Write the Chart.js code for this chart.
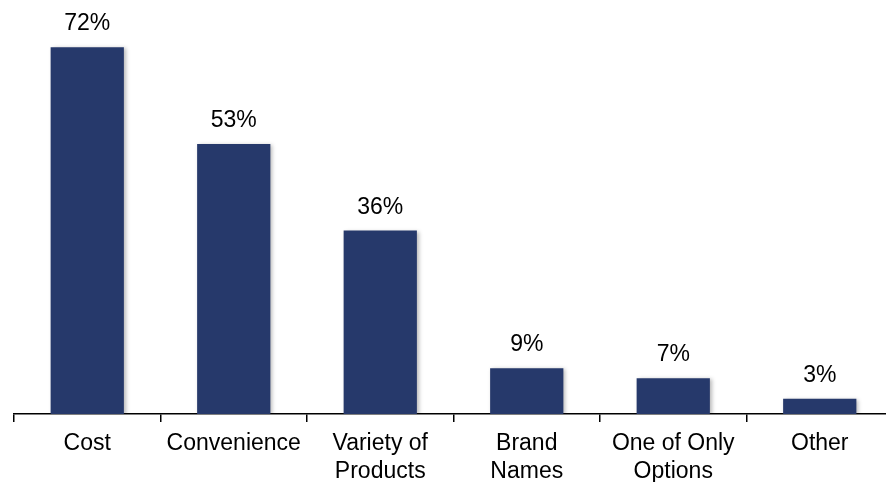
<!DOCTYPE html>
<html>
<head>
<meta charset="utf-8">
<script src="https://cdn.jsdelivr.net/npm/chart.js@4/dist/chart.umd.min.js"></script>
<style>
  html, body { margin: 0; padding: 0; background: #fff; overflow: hidden; }
  #wrap { width: 893px; height: 482px; position: relative; }
</style>
</head>
<body>
<div id="wrap"><canvas id="reasonsChart"></canvas></div>
<script>
const categories = [
  'Cost',
  'Convenience',
  ['Variety of', 'Products'],
  ['Brand', 'Names'],
  ['One of Only', 'Options'],
  'Other'
];
const shares = [72, 53, 36, 9, 7, 3];
const valueLabels = ['72%', '53%', '36%', '9%', '7%', '3%'];

const BAR_COLOR = '#26396B';
const FONT = "'Liberation Sans', Arial, sans-serif";

// soft shadow behind the bars
const barShadow = {
  id: 'barShadow',
  beforeDatasetsDraw(chart) {
    const ctx = chart.ctx;
    ctx.save();
    ctx.shadowColor = 'rgba(0,0,0,0.28)';
    ctx.shadowBlur = 4;
    ctx.shadowOffsetX = 2;
    ctx.shadowOffsetY = 1;
  },
  afterDatasetsDraw(chart) {
    chart.ctx.restore();
  }
};

// percentage text above each bar
const valueText = {
  id: 'valueText',
  afterDatasetsDraw(chart) {
    const ctx = chart.ctx;
    const meta = chart.getDatasetMeta(0);
    ctx.save();
    ctx.font = `23px ${FONT}`;
    ctx.fillStyle = '#000';
    ctx.textAlign = 'center';
    ctx.textBaseline = 'alphabetic';
    meta.data.forEach((bar, i) => {
      ctx.fillText(valueLabels[i], bar.x, bar.y - 17);
    });
    ctx.restore();
  }
};

new Chart(document.getElementById('reasonsChart'), {
  type: 'bar',
  data: {
    labels: categories,
    datasets: [{
      data: shares,
      backgroundColor: BAR_COLOR,
      borderWidth: 0,
      barPercentage: 0.5,
      categoryPercentage: 1.0
    }]
  },
  options: {
    responsive: true,
    maintainAspectRatio: false,
    animation: false,
    layout: { padding: { left: 14, right: 0, top: 0, bottom: 0 } },
    plugins: {
      legend: { display: false },
      tooltip: { enabled: false }
    },
    scales: {
      x: {
        grid: {
          offset: true,
          drawOnChartArea: false,
          drawTicks: true,
          tickLength: 8,
          color: '#000',
          lineWidth: 1.5
        },
        border: { color: '#000', width: 1.5 },
        ticks: {
          color: '#000',
          font: { family: FONT, size: 23, lineHeight: 1.2 },
          padding: 8,
          maxRotation: 0,
          autoSkip: false
        },
        afterFit(scale) { scale.height = 68; }
      },
      y: {
        display: false,
        min: 0,
        max: 81.25
      }
    }
  },
  plugins: [barShadow, valueText]
});
</script>
</body>
</html>
